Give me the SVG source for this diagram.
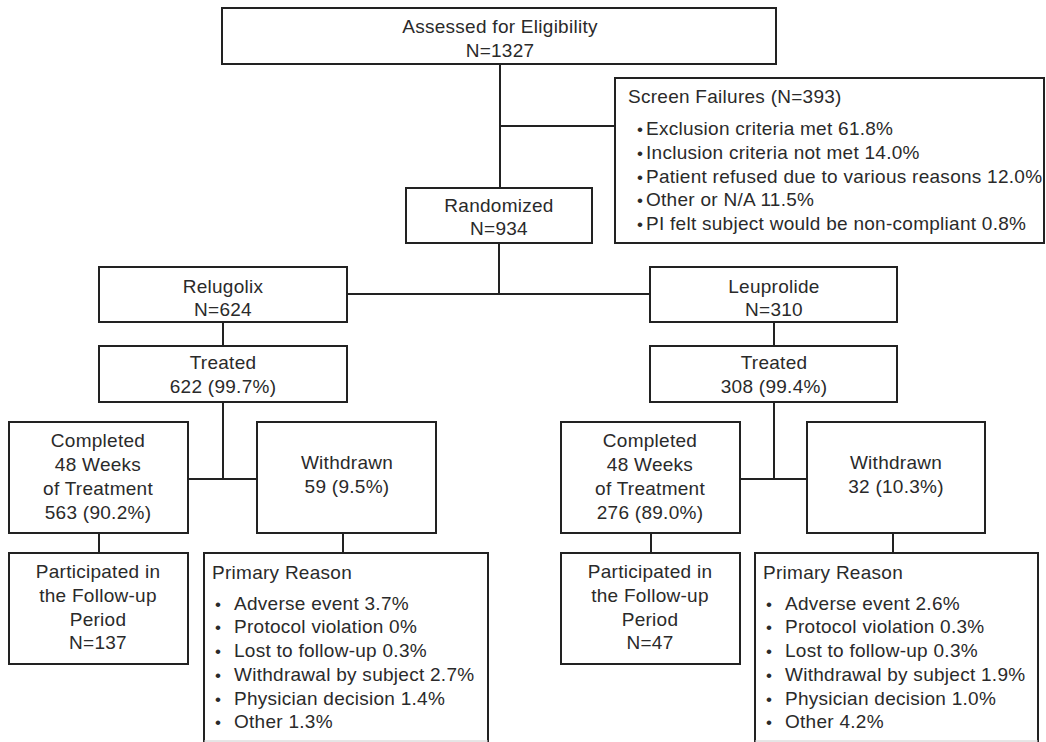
<svg xmlns="http://www.w3.org/2000/svg" width="1046" height="742" viewBox="0 0 1046 742">
<style>
.box{fill:#fff;stroke:#222;stroke-width:2}
.ln{stroke:#222;stroke-width:2;fill:none}
text{font-family:"Liberation Sans",Arial,sans-serif;font-size:19px;letter-spacing:0.27px;fill:#2a2a2a}
.c{text-anchor:middle}
.b{font-size:17px;letter-spacing:0}
</style>
<rect width="1046" height="742" fill="#fff"/>
<g id="connectors">
<path class="ln" d="M500 64V188M500 126H615"/>
<path class="ln" d="M499 243V294M347 294H650"/>
<path class="ln" d="M223 322V346M774 322V346"/>
<path class="ln" d="M223 402V479M188 479H257M774 402V479M740 479H807"/>
<path class="ln" d="M99 533V553M343 533V553M651 533V553M893 533V553"/>
</g>
<g id="assessed">
<rect class="box" x="222" y="8" width="554" height="56"/>
<text class="c" x="500" y="33">Assessed for Eligibility</text>
<text class="c" x="500" y="57">N=1327</text>
</g>
<g id="screen">
<rect class="box" x="615" y="78" width="429" height="165"/>
<text x="628" y="103">Screen Failures (N=393)</text>
<text class="b" x="637" y="135">•</text><text x="646" y="135">Exclusion criteria met 61.8%</text>
<text class="b" x="637" y="159">•</text><text x="646" y="159">Inclusion criteria not met 14.0%</text>
<text class="b" x="637" y="183">•</text><text x="646" y="183">Patient refused due to various reasons 12.0%</text>
<text class="b" x="637" y="206">•</text><text x="646" y="206">Other or N/A 11.5%</text>
<text class="b" x="637" y="230">•</text><text x="646" y="230">PI felt subject would be non-compliant 0.8%</text>
</g>
<g id="randomized">
<rect class="box" x="406" y="188" width="186" height="55"/>
<text class="c" x="499" y="212">Randomized</text>
<text class="c" x="499" y="235">N=934</text>
</g>
<g id="relugolix">
<rect class="box" x="99" y="267" width="248" height="55"/>
<text class="c" x="223" y="293">Relugolix</text>
<text class="c" x="223" y="316">N=624</text>
</g>
<g id="leuprolide">
<rect class="box" x="650" y="267" width="247" height="55"/>
<text class="c" x="774" y="293">Leuprolide</text>
<text class="c" x="774" y="316">N=310</text>
</g>
<g id="treated-r">
<rect class="box" x="99" y="346" width="248" height="56"/>
<text class="c" x="223" y="369">Treated</text>
<text class="c" x="223" y="393">622 (99.7%)</text>
</g>
<g id="treated-l">
<rect class="box" x="650" y="346" width="247" height="56"/>
<text class="c" x="774" y="369">Treated</text>
<text class="c" x="774" y="393">308 (99.4%)</text>
</g>
<g id="completed-r">
<rect class="box" x="9" y="422" width="179" height="111"/>
<text class="c" x="98" y="447">Completed</text>
<text class="c" x="98" y="471">48 Weeks</text>
<text class="c" x="98" y="495">of Treatment</text>
<text class="c" x="98" y="519">563 (90.2%)</text>
</g>
<g id="withdrawn-r">
<rect class="box" x="257" y="422" width="179" height="111"/>
<text class="c" x="347" y="469">Withdrawn</text>
<text class="c" x="347" y="493">59 (9.5%)</text>
</g>
<g id="completed-l">
<rect class="box" x="561" y="422" width="179" height="111"/>
<text class="c" x="650" y="447">Completed</text>
<text class="c" x="650" y="471">48 Weeks</text>
<text class="c" x="650" y="495">of Treatment</text>
<text class="c" x="650" y="519">276 (89.0%)</text>
</g>
<g id="withdrawn-l">
<rect class="box" x="807" y="422" width="178" height="111"/>
<text class="c" x="896" y="469">Withdrawn</text>
<text class="c" x="896" y="493">32 (10.3%)</text>
</g>
<g id="followup-r">
<rect class="box" x="9" y="553" width="179" height="111"/>
<text class="c" x="98" y="578">Participated in</text>
<text class="c" x="98" y="602">the Follow-up</text>
<text class="c" x="98" y="626">Period</text>
<text class="c" x="98" y="649">N=137</text>
</g>
<g id="followup-l">
<rect class="box" x="561" y="553" width="179" height="111"/>
<text class="c" x="650" y="578">Participated in</text>
<text class="c" x="650" y="602">the Follow-up</text>
<text class="c" x="650" y="626">Period</text>
<text class="c" x="650" y="649">N=47</text>
</g>
<g id="reason-r">
<path class="ln" d="M204 742V553H488V742"/>
<path d="M204 741H488" stroke="#ccc" stroke-width="1"/>
<text x="212" y="579">Primary Reason</text>
<text class="b" x="215" y="610">•</text><text x="234" y="610">Adverse event 3.7%</text>
<text class="b" x="215" y="633">•</text><text x="234" y="633">Protocol violation 0%</text>
<text class="b" x="215" y="657">•</text><text x="234" y="657">Lost to follow-up 0.3%</text>
<text class="b" x="215" y="681">•</text><text x="234" y="681">Withdrawal by subject 2.7%</text>
<text class="b" x="215" y="705">•</text><text x="234" y="705">Physician decision 1.4%</text>
<text class="b" x="215" y="728">•</text><text x="234" y="728">Other 1.3%</text>
</g>
<g id="reason-l">
<path class="ln" d="M755 742V553H1038V742"/>
<path d="M755 741H1038" stroke="#ccc" stroke-width="1"/>
<text x="763" y="579">Primary Reason</text>
<text class="b" x="766" y="610">•</text><text x="785" y="610">Adverse event 2.6%</text>
<text class="b" x="766" y="633">•</text><text x="785" y="633">Protocol violation 0.3%</text>
<text class="b" x="766" y="657">•</text><text x="785" y="657">Lost to follow-up 0.3%</text>
<text class="b" x="766" y="681">•</text><text x="785" y="681">Withdrawal by subject 1.9%</text>
<text class="b" x="766" y="705">•</text><text x="785" y="705">Physician decision 1.0%</text>
<text class="b" x="766" y="728">•</text><text x="785" y="728">Other 4.2%</text>
</g>
</svg>
